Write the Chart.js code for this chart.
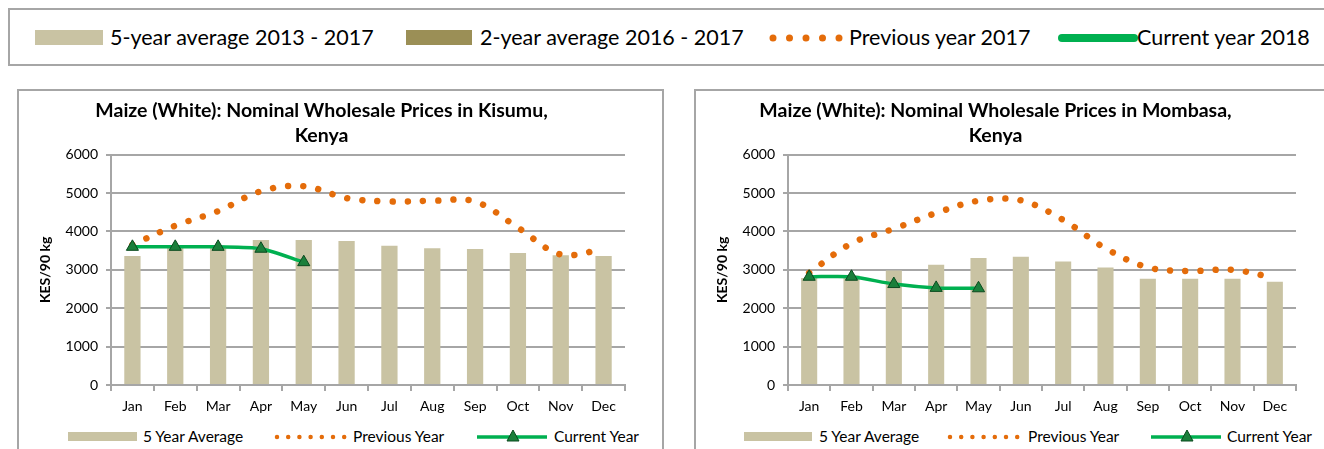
<!DOCTYPE html>
<html><head><meta charset="utf-8">
<script src="https://cdn.jsdelivr.net/npm/chart.js@4.4.1/dist/chart.umd.min.js"></script>
<style>
html,body{margin:0;padding:0;background:#fff;width:1324px;height:449px;overflow:hidden;font-family:Lato,"Open Sans",sans-serif;position:relative;}
.box{position:absolute;border:2px solid #a6a6a6;box-sizing:border-box;}
.t{position:absolute;white-space:nowrap;color:#000;transform:translateY(-50%);line-height:1;}
.sw{position:absolute;}
canvas{position:absolute;}
svg{position:absolute;overflow:visible;}
</style></head>
<body>
<div class="box" style="left:8px;top:8px;width:1340px;height:58px;"></div>
<div class="box" style="left:17px;top:89px;width:647px;height:400px;"></div>
<div class="box" style="left:694px;top:89px;width:700px;height:400px;"></div>

<!-- top legend -->
<div class="sw" style="left:35px;top:30px;width:68px;height:15px;background:#c9c3a3;"></div>
<div class="t" style="left:110px;top:38px;font-size:21.5px;">5-year average 2013 - 2017</div>
<div class="sw" style="left:406px;top:30px;width:66px;height:15px;background:#9b8f56;"></div>
<div class="t" style="left:480px;top:38px;font-size:21.5px;">2-year average 2016 - 2017</div>
<svg style="left:770px;top:32px;" width="72" height="12"><line x1="3" y1="6" x2="70" y2="6" stroke="#e46c0a" stroke-width="7" stroke-linecap="round" stroke-dasharray="0 16.5"/></svg>
<div class="t" style="left:849px;top:38px;font-size:21.5px;">Previous year 2017</div>
<svg style="left:1057px;top:32px;" width="82" height="12"><line x1="5" y1="6" x2="77" y2="6" stroke="#00b050" stroke-width="8" stroke-linecap="round"/></svg>
<div class="t" style="left:1137px;top:38px;font-size:21.5px;">Current year 2018</div>

<canvas id="c1" width="616" height="328" style="left:18px;top:90px;"></canvas>
<canvas id="c2" width="660" height="328" style="left:695px;top:90px;"></canvas>

<!-- bottom legends -->
<div class="sw" style="left:68px;top:432px;width:69px;height:9px;background:#c9c3a3;"></div>
<div class="t" style="left:143px;top:437px;font-size:15.5px;">5 Year Average</div>
<svg style="left:274px;top:432px;" width="76" height="10"><line x1="3" y1="5" x2="73" y2="5" stroke="#e46c0a" stroke-width="4.5" stroke-linecap="round" stroke-dasharray="0 11.2"/></svg>
<div class="t" style="left:353px;top:437px;font-size:15.5px;">Previous Year</div>
<svg style="left:477px;top:427px;" width="70" height="20"><line x1="0" y1="10" x2="70" y2="10" stroke="#00b050" stroke-width="3.5"/><polygon points="36,3 42,14 30,14" fill="#1b7f3b" stroke="#0b4a1f" stroke-width="1"/></svg>
<div class="t" style="left:554px;top:437px;font-size:15.5px;">Current Year</div>

<div class="sw" style="left:744px;top:432px;width:68px;height:9px;background:#c9c3a3;"></div>
<div class="t" style="left:819px;top:437px;font-size:15.5px;">5 Year Average</div>
<svg style="left:947px;top:432px;" width="76" height="10"><line x1="3" y1="5" x2="73" y2="5" stroke="#e46c0a" stroke-width="4.5" stroke-linecap="round" stroke-dasharray="0 11.2"/></svg>
<div class="t" style="left:1028px;top:437px;font-size:15.5px;">Previous Year</div>
<svg style="left:1151px;top:427px;" width="70" height="20"><line x1="0" y1="10" x2="70" y2="10" stroke="#00b050" stroke-width="3.5"/><polygon points="36,3 42,14 30,14" fill="#1b7f3b" stroke="#0b4a1f" stroke-width="1"/></svg>
<div class="t" style="left:1227px;top:437px;font-size:15.5px;">Current Year</div>

<script>
const months = ['Jan','Feb','Mar','Apr','May','Jun','Jul','Aug','Sep','Oct','Nov','Dec'];
const yTicks = [0,1000,2000,3000,4000,5000,6000];

// Kisumu
const kisumuAvg5  = [3360,3580,3590,3780,3780,3750,3630,3560,3540,3440,3380,3360];
const kisumuPrev  = [3650,4150,4530,5050,5180,4870,4780,4800,4780,4100,3400,3540];
const kisumuCur   = [3600,3600,3600,3550,3200];

// Mombasa
const mombasaAvg5 = [2790,2850,2980,3130,3310,3340,3220,3060,2770,2770,2770,2690];
const mombasaPrev = [2920,3690,4070,4480,4800,4810,4300,3560,3065,2970,3000,2790];
const mombasaCur  = [2820,2820,2630,2530,2520];

const FONT = 'Lato, "Open Sans", sans-serif';
const GRID = '#a6a6a6';

function makeChart(id, titleLines, avg, prev, cur, padRight) {
  new Chart(document.getElementById(id), {
    data: {
      labels: months,
      datasets: [
        { type:'line', label:'Current Year', data:cur, order:1,
          borderColor:'#00b050', borderWidth:3.5, tension:0.25, fill:false,
          pointStyle:'triangle', pointRadius:7, pointBackgroundColor:'#1b7f3b',
          pointBorderColor:'#0b4a1f', pointBorderWidth:1 },
        { type:'line', label:'Previous Year', data:prev, order:2,
          borderColor:'#e46c0a', borderWidth:6.5, borderDash:[0.001,15.2], borderCapStyle:'round',
          tension:0.35, pointRadius:0, fill:false },
        { type:'bar', label:'5 Year Average', data:avg, order:3,
          backgroundColor:'#c9c3a3', barPercentage:0.38, categoryPercentage:1 }
      ]
    },
    options: {
      responsive:false, animation:false,
      layout:{ padding:{ left:0, right:padRight, top:0, bottom:0 } },
      plugins:{
        legend:{ display:false }, tooltip:{ enabled:false },
        title:{ display:true, text:titleLines, color:'#000',
          font:{ family:FONT, size:19.5, weight:'bold', lineHeight:1.3 },
          padding:{ top:8, bottom:6 } }
      },
      scales:{
        x:{ offset:true,
          grid:{ offset:true, drawOnChartArea:false, drawTicks:true, tickLength:6, color:GRID, lineWidth:2 },
          border:{ display:true, color:GRID, width:2 },
          ticks:{ font:{ family:FONT, size:14 }, color:'#000', padding:7, maxRotation:0, autoSkip:false },
          afterFit:(s)=>{ s.height = 33; } },
        y:{ min:0, max:6000,
          afterBuildTicks:(s)=>{ s.ticks = yTicks.map(v=>({value:v})); },
          ticks:{ font:{ family:FONT, size:14 }, color:'#000', padding:8, callback:(v)=>String(v) },
          grid:{ color:GRID, lineWidth:2, tickLength:5 },
          border:{ display:true, color:GRID, width:2 },
          title:{ display:true, text:'KES/90 kg', color:'#000',
            font:{ family:FONT, size:14, weight:'bold' }, padding:{ top:19 } },
          afterFit:(s)=>{ s.width = 93; } }
      }
    }
  });
}

makeChart('c1', ['Maize (White): Nominal Wholesale Prices in Kisumu,','Kenya'], kisumuAvg5, kisumuPrev, kisumuCur, 9);
makeChart('c2', ['Maize (White): Nominal Wholesale Prices in Mombasa,','Kenya'], mombasaAvg5, mombasaPrev, mombasaCur, 59);
</script>
</body></html>
